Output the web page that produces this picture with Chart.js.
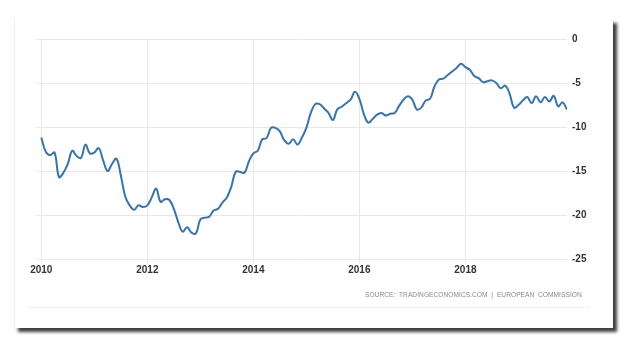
<!DOCTYPE html>
<html>
<head>
<meta charset="utf-8">
<script src="https://cdn.jsdelivr.net/npm/chart.js@4"></script>
<style>
  html, body { margin: 0; padding: 0; background: #fff; }
  #wrap { position: relative; width: 630px; height: 350px; overflow: hidden; }
  #frame {
    position: absolute; left: 14px; top: 19px; width: 598px; height: 309px;
    background: #fff; border-left: 1px solid #eee;
    box-shadow: 4px 4px 3px rgba(0,0,0,0.75);
  }
  #rule { position: absolute; left: 28px; top: 307px; width: 562px; height: 1px; background: #f0f0f0; }
  #source {
    position: absolute; left: 365px; top: 291px; width: 220px;
    font: 6.6px "Liberation Sans", Arial, sans-serif; color: #8a8a8a; letter-spacing: 0.05px;
    white-space: pre;
  }
  canvas { position: absolute; left: 0; top: 0; }
</style>
</head>
<body>
<div id="wrap">
  <div id="frame"></div>
  <div id="rule"></div>
  <canvas id="c" width="630" height="350"></canvas>
  <div id="source">SOURCE:  TRADINGECONOMICS.COM  |  EUROPEAN  COMMISSION</div>
</div>
<script>
// monthly readings, Jan 2010 .. Dec 2019
const startYear = 2010;
const values = [
  -11.2, -12.8, -13.2, -12.9, -15.7, -15.2, -14.2, -12.7, -13.3, -13.5, -12.0, -13.0,
  -12.9, -12.4, -13.8, -15.0, -14.2, -13.6, -15.5, -17.9, -18.9, -19.4, -18.9, -19.1,
  -18.9, -18.0, -17.0, -18.5, -18.2, -18.3, -19.3, -20.8, -21.9, -21.4, -22.0, -22.1,
  -20.5, -20.3, -20.2, -19.5, -19.3, -18.6, -18.0, -16.8, -15.1, -15.1, -15.2, -13.9,
  -13.0, -12.7, -11.4, -11.25, -10.1, -10.1, -10.5, -11.5, -11.9, -11.4, -12.0, -11.2,
  -10.1, -8.4, -7.4, -7.4, -7.9, -8.4, -9.2, -8.0, -7.7, -7.3, -6.9, -6.0,
  -6.8, -8.5, -9.5, -9.1, -8.6, -8.4, -8.7, -8.5, -8.4, -7.6, -6.9, -6.5,
  -6.9, -8.0, -7.8, -7.0, -6.8, -5.4, -4.6, -4.5, -4.1, -3.7, -3.3, -2.8,
  -3.2, -3.5, -4.2, -4.45, -4.9, -4.8, -4.7, -5.0, -5.6, -5.3, -6.2, -7.8,
  -7.5, -7.0, -6.6, -7.3, -6.5, -7.2, -6.6, -7.1, -6.45, -7.65, -7.2, -8.0
];
const yearTicks = [2010, 2012, 2014, 2016, 2018];
const valueTicks = [0, -5, -10, -15, -20, -25];

const points = values.map((v, i) => ({ x: startYear + i / 12, y: v }));

new Chart(document.getElementById('c'), {
  type: 'line',
  data: {
    datasets: [{
      data: points,
      borderColor: '#3673b1',
      borderWidth: 2,
      pointRadius: 0,
      tension: 0.4,
      fill: false
    }]
  },
  options: {
    responsive: false,
    animation: false,
    layout: { padding: { left: 36, right: 23, top: 39, bottom: 61 } },
    plugins: { legend: { display: false }, tooltip: { enabled: false } },
    scales: {
      x: {
        type: 'linear',
        min: 2009.9,
        max: 2019 + 11 / 12,
        afterBuildTicks: s => { s.ticks = yearTicks.map(v => ({ value: v })); },
        afterFit: s => { s.height = 30; },
        grid: { color: '#e8e8e8', tickLength: 4 },
        border: { display: false },
        ticks: {
          padding: 1,
          maxRotation: 0,
          color: '#333',
          font: { family: 'Liberation Sans', size: 10, weight: 'bold' },
          callback: v => String(v)
        }
      },
      y: {
        position: 'right',
        min: -25,
        max: 0,
        afterBuildTicks: s => { s.ticks = valueTicks.map(v => ({ value: v })); },
        afterFit: s => { s.width = 40; },
        grid: { color: '#e8e8e8', drawTicks: false },
        border: { display: false },
        ticks: {
          padding: 5,
          color: '#333',
          font: { family: 'Liberation Sans', size: 10, weight: 'bold' }
        }
      }
    }
  }
});
</script>
</body>
</html>
